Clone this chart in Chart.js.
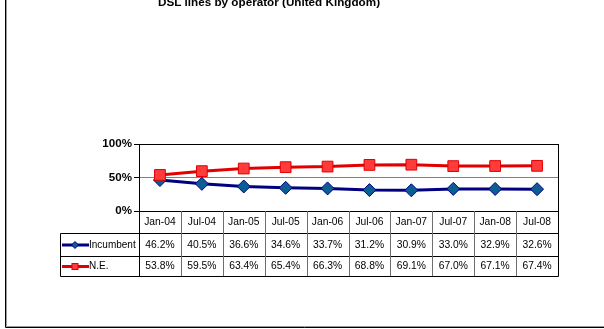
<!DOCTYPE html>
<html>
<head>
<meta charset="utf-8">
<script src="https://cdn.jsdelivr.net/npm/chart.js@4.4.1/dist/chart.umd.min.js"></script>
<style>
  html, body { margin: 0; padding: 0; background: #fff; }
  #wrap { width: 604px; height: 329px; position: relative; }
</style>
</head>
<body>
<div id="wrap"><canvas id="chart" width="604" height="329"></canvas></div>
<script>
// DSL lines by operator (United Kingdom), share of lines in %
const periods = ["Jan-04", "Jul-04", "Jan-05", "Jul-05", "Jan-06", "Jul-06", "Jan-07", "Jul-07", "Jan-08", "Jul-08"];
const incumbent = [46.2, 40.5, 36.6, 34.6, 33.7, 31.2, 30.9, 33.0, 32.9, 32.6];
const newEntrants = [53.8, 59.5, 63.4, 65.4, 66.3, 68.8, 69.1, 67.0, 67.1, 67.4];
const seriesNames = ["Incumbent", "N.E."];
const yTicks = [0, 50, 100];

const FONT = "'Liberation Sans', Arial, sans-serif";
const NAVY = "#000080";
const RED = "#e00000";

// rows of the data table under the plot (top, bottom)
const rowEdges = [211, 233, 256, 276];
const tableLeft = 60;

function pct(v) {
  return v.toFixed(1) + "%";
}

// title, frame, plot box and the data table below it
const decorPlugin = {
  id: "decor",
  afterDraw(chart) {
    const ctx = chart.ctx;
    const area = chart.chartArea;
    const x = chart.scales.x;
    const n = periods.length;
    const colW = (area.right - area.left) / n;
    ctx.save();

    // chart frame (only left and bottom fall inside the picture)
    ctx.strokeStyle = "#000";
    ctx.lineWidth = 1;
    ctx.beginPath();
    ctx.moveTo(5.5, 0);
    ctx.lineTo(5.5, 327.5);
    ctx.lineTo(604, 327.5);
    ctx.stroke();
    ctx.strokeStyle = "#9a9a9a";
    ctx.beginPath();
    ctx.moveTo(6.5, 0);
    ctx.lineTo(6.5, 326.5);
    ctx.lineTo(604, 326.5);
    ctx.stroke();

    // title
    ctx.fillStyle = "#000";
    ctx.font = "bold 11.7px " + FONT;
    ctx.textAlign = "center";
    ctx.textBaseline = "alphabetic";
    ctx.fillText("DSL lines by operator (United Kingdom)", 269, 6);

    // plot box
    ctx.strokeStyle = "#000";
    ctx.lineWidth = 1;
    ctx.strokeRect(Math.round(area.left) + 0.5, Math.round(area.top) + 0.5,
      Math.round(area.right - area.left), Math.round(area.bottom - area.top));

    // table grid
    const L = Math.round(area.left) + 0.5;
    const R = Math.round(area.right) + 0.5;
    ctx.strokeStyle = "#000";
    ctx.beginPath();
    ctx.moveTo(L, rowEdges[1] + 0.5); ctx.lineTo(R, rowEdges[1] + 0.5);
    ctx.moveTo(tableLeft + 0.5, rowEdges[1] + 0.5); ctx.lineTo(L, rowEdges[1] + 0.5);
    ctx.moveTo(tableLeft + 0.5, rowEdges[2] + 0.5); ctx.lineTo(R, rowEdges[2] + 0.5);
    ctx.moveTo(tableLeft + 0.5, rowEdges[3] + 0.5); ctx.lineTo(R, rowEdges[3] + 0.5);
    ctx.moveTo(tableLeft + 0.5, rowEdges[1] + 0.5); ctx.lineTo(tableLeft + 0.5, rowEdges[3] + 0.5);
    ctx.moveTo(L, rowEdges[0]); ctx.lineTo(L, rowEdges[3] + 0.5);
    ctx.moveTo(R, rowEdges[0]); ctx.lineTo(R, rowEdges[3] + 0.5);
    ctx.stroke();
    ctx.strokeStyle = "#6e6e6e";
    ctx.beginPath();
    for (let i = 1; i < n; i++) {
      const gx = Math.round(area.left + i * colW) + 0.5;
      ctx.moveTo(gx, rowEdges[0]);
      ctx.lineTo(gx, rowEdges[3]);
    }
    ctx.stroke();

    // table text
    ctx.fillStyle = "#000";
    ctx.font = "10.3px " + FONT;
    ctx.textAlign = "center";
    ctx.textBaseline = "middle";
    const mid = (r) => (rowEdges[r] + rowEdges[r + 1]) / 2 + 0.5;
    periods.forEach((p, i) => {
      const cx = x.getPixelForValue(i);
      ctx.fillText(p, cx, mid(0));
      ctx.fillText(pct(incumbent[i]), cx, mid(1));
      ctx.fillText(pct(newEntrants[i]), cx, mid(2));
    });

    // legend keys in the first column
    const keyY1 = mid(1), keyY2 = mid(2);
    ctx.lineWidth = 3;
    ctx.strokeStyle = NAVY;
    ctx.beginPath(); ctx.moveTo(62, keyY1); ctx.lineTo(89, keyY1); ctx.stroke();
    ctx.strokeStyle = RED;
    ctx.beginPath(); ctx.moveTo(62, keyY2); ctx.lineTo(89, keyY2); ctx.stroke();
    ctx.lineWidth = 1;
    ctx.fillStyle = "#0b5d94";
    ctx.strokeStyle = NAVY;
    ctx.beginPath();
    ctx.moveTo(75, keyY1 - 3.5); ctx.lineTo(78.5, keyY1); ctx.lineTo(75, keyY1 + 3.5); ctx.lineTo(71.5, keyY1);
    ctx.closePath(); ctx.fill(); ctx.stroke();
    ctx.fillStyle = "#ff3b3b";
    ctx.strokeStyle = RED;
    ctx.fillRect(72, keyY2 - 3, 6, 6);
    ctx.strokeRect(72, keyY2 - 3, 6, 6);

    ctx.fillStyle = "#000";
    ctx.font = "10px " + FONT;
    ctx.textAlign = "left";
    ctx.fillText(seriesNames[0], 89, keyY1);
    ctx.fillText(seriesNames[1], 89, keyY2);
    ctx.restore();
  },
};

const ctx = document.getElementById("chart").getContext("2d");

const chart = new Chart(ctx, {
  type: "line",
  data: {
    labels: periods,
    datasets: [
      {
        label: seriesNames[0],
        data: incumbent,
        borderColor: NAVY,
        borderWidth: 3,
        pointStyle: "rectRot",
        pointRadius: 6.5,
        pointBackgroundColor: "#0b5d94",
        pointBorderColor: NAVY,
        pointBorderWidth: 1,
        tension: 0,
        order: 2,
      },
      {
        label: seriesNames[1],
        data: newEntrants,
        borderColor: RED,
        borderWidth: 3,
        pointStyle: "rect",
        pointRadius: 7.6,
        pointBackgroundColor: "#ff3b3b",
        pointBorderColor: RED,
        pointBorderWidth: 1,
        tension: 0,
        order: 1,
      },
    ],
  },
  options: {
    responsive: false,
    animation: false,
    events: [],
    layout: { padding: { left: 0, top: 144, right: 46, bottom: 118 } },
    plugins: {
      legend: { display: false },
      title: { display: false },
      tooltip: { enabled: false },
    },
    scales: {
      x: {
        type: "category",
        display: false,
        offset: true,
      },
      y: {
        min: 0,
        max: 100,
        afterFit(scale) { scale.width = 139; },
        afterBuildTicks(scale) { scale.ticks = yTicks.map((v) => ({ value: v })); },
        border: { display: true, color: "#000", width: 1 },
        grid: {
          color: (c) => (c.tick && c.tick.value === 50 ? "#808080" : "#000"),
          tickColor: "#000",
          tickLength: 5,
          lineWidth: 1,
        },
        ticks: {
          color: "#000",
          padding: 2,
          font: { family: FONT, size: 11.6, weight: "bold" },
          callback: (v) => v + "%",
        },
      },
    },
  },
  plugins: [decorPlugin],
});
</script>
</body>
</html>
